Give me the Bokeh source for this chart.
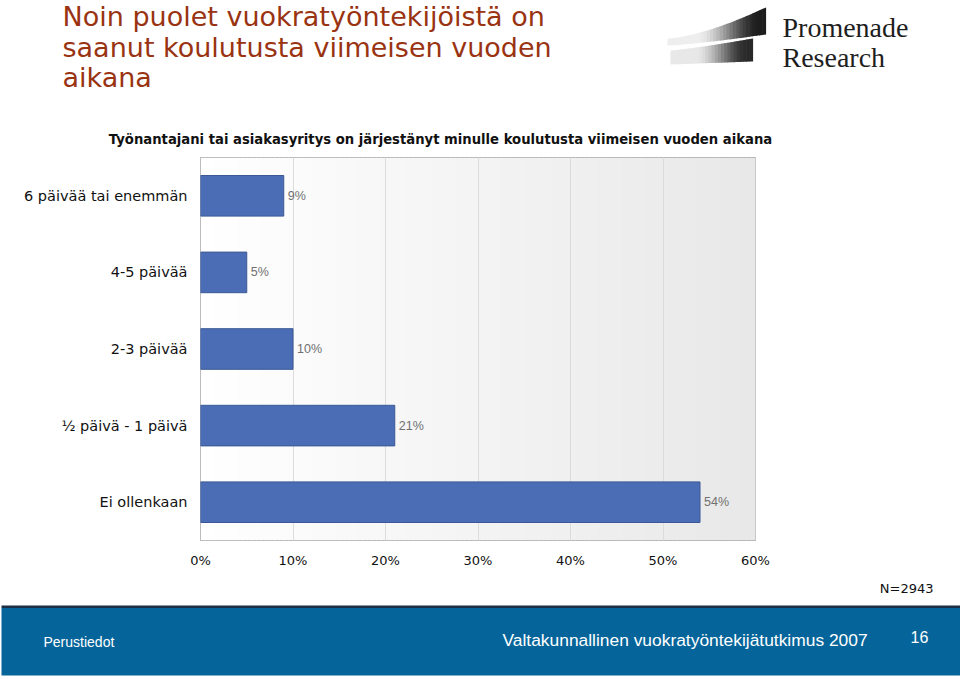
from bokeh.plotting import figure
from bokeh.layouts import column
from bokeh.models import (FactorRange, Range1d, BoxAnnotation,
                          FixedTicker, PrintfTickFormatter, ColumnDataSource)
from bokeh.embed import file_html
from bokeh.resources import INLINE
from bokeh.core.properties import value

# ---------------- data ----------------
categories = ["6 päivää tai enemmän", "4-5 päivää", "2-3 päivää", "½ päivä - 1 päivä", "Ei ollenkaan"]
percent = [9, 5, 10, 21, 54]
x_ticks = [0, 10, 20, 30, 40, 50, 60]
title_lines = ["Noin puolet vuokratyöntekijöistä on",
               "saanut koulutusta viimeisen vuoden",
               "aikana"]
subtitle = "Työnantajani tai asiakasyritys on järjestänyt minulle koulutusta viimeisen vuoden aikana"
sample_note = "N=2943"
footer_left = "Perustiedot"
footer_right = "Valtakunnallinen vuokratyöntekijätutkimus 2007"
page_number = "16"
logo_lines = ["Promenade", "Research"]

W = 960
H_HEAD, H_CHART, H_FOOT = 157, 418, 104


def blank_fig(h):
    f = figure(width=W, height=h, x_range=Range1d(0, W), y_range=Range1d(h, 0),
               x_axis_type=None, y_axis_type=None,
               output_backend="svg", toolbar_location=None,
               min_border=0, frame_align=False)
    f.outline_line_color = None
    f.grid.visible = False
    f.background_fill_color = "white"
    f.border_fill_color = "white"
    return f


def put_text(fig, x, y_mid, txt, font, size, color, align="left", style="normal"):
    fig.text(x=[x], y=[y_mid], text=[txt], text_font=value(font),
             text_font_size=value(size), text_color=color,
             text_align=align, text_baseline="middle",
             text_font_style=style)


# ---------------- header ----------------
head = blank_fig(H_HEAD)
for k, line in enumerate(title_lines):
    put_text(head, 62, 16.3 + 30.3 * k, line, "DejaVu Sans", "27px", "#993311")
put_text(head, 440, 139, subtitle, "DejaVu Sans", "13.2px", "#111111",
         align="center", style="bold")


def shape_slices(fig, x0, x1, top_f, bot_f, n, c0, c1, f0, f1):
    for i in range(n):
        a = x0 + (x1 - x0) * i / n
        b = x0 + (x1 - x0) * (i + 1) / n + 0.6
        ta = (a - x0) / (x1 - x0)
        tb = min((b - x0) / (x1 - x0), 1.0)
        tm = (i + 0.5) / n
        s = min(max((tm - f0) / (f1 - f0), 0.0), 1.0)
        s = s * s * (3 - 2 * s)
        g = int(round(c0 + (c1 - c0) * s))
        col = "#%02x%02x%02x" % (g, g, g)
        fig.patch([a, b, b, a], [top_f(ta), top_f(tb), bot_f(tb), bot_f(ta)],
                  fill_color=col, line_alpha=0)


# upper blade
shape_slices(head, 667, 765, lambda t: 38 - 31 * t ** 1.5,
             lambda t: 45 - 11 * t ** 1.3, 30, 238, 28, 0.3, 0.95)
# lower blade
shape_slices(head, 670, 752, lambda t: 50 - 12 * t ** 1.2,
             lambda t: 64 - 3 * t, 26, 232, 40, 0.3, 0.95)
for k, line in enumerate(logo_lines):
    put_text(head, 782, 26.5 + 30 * k, line, "Liberation Serif", "28px", "#1e1e1e")

# ---------------- chart ----------------
p = figure(width=W, height=H_CHART,
           y_range=FactorRange(factors=categories[::-1]),
           x_range=Range1d(0, 60),
           output_backend="svg", toolbar_location=None,
           min_border_left=200, min_border_right=205,
           min_border_top=0, min_border_bottom=H_CHART - 383,
           frame_align=False)
p.background_fill_color = "white"
p.border_fill_color = "white"
p.outline_line_color = "#a6a6a6"
p.outline_line_width = 1

n_strips = 120
for i in range(n_strips):
    t = i / (n_strips - 1)
    g = int(round(255 - 23 * t))
    col = "#%02x%02x%02x" % (g, g, g)
    w = 60 / n_strips
    p.add_layout(BoxAnnotation(left=i * w, right=(i + 1) * w + 0.08,
                               fill_color=col, fill_alpha=1.0,
                               line_alpha=0, level="image"))

p.xgrid.ticker = FixedTicker(ticks=x_ticks)
p.xgrid.grid_line_color = "#dcdcdc"
p.ygrid.grid_line_color = None

src = ColumnDataSource(dict(cat=categories, val=percent,
                            lbl=["%d%%" % v for v in percent]))
p.hbar(y="cat", left=0, right="val", height=0.53, source=src,
       fill_color="#4a6db5", line_color="#3b5994", line_width=1)
p.text(x="val", y="cat", text="lbl", source=src, x_offset=4,
       text_baseline="middle", text_align="left",
       text_font=value("Liberation Sans"), text_font_size="12.5px",
       text_color="#707070")

p.xaxis.ticker = FixedTicker(ticks=x_ticks)
p.xaxis.formatter = PrintfTickFormatter(format="%d%%")
for ax in (p.xaxis[0], p.yaxis[0]):
    ax.axis_line_color = None
    ax.major_tick_line_color = None
    ax.minor_tick_line_color = None
    ax.major_label_text_font = "DejaVu Sans"
    ax.major_label_text_color = "#111111"
p.xaxis.major_label_text_font_size = "13px"
p.yaxis.major_label_text_font_size = "14.5px"
p.xaxis.major_label_standoff = 6
p.yaxis.major_label_standoff = 7

# ---------------- footer ----------------
foot = blank_fig(H_FOOT)
put_text(foot, 933, 13, sample_note, "DejaVu Sans", "13px", "#111111", align="right")
foot.quad(left=1, right=W, top=30, bottom=32.5, fill_color="#1c2f45", line_alpha=0)
foot.quad(left=1, right=W, top=32.5, bottom=100, fill_color="#05659a", line_alpha=0)
put_text(foot, 43, 66, footer_left, "Liberation Sans", "14px", "white")
put_text(foot, 502, 64, footer_right, "Liberation Sans", "17.4px", "white")
put_text(foot, 910, 61.2, page_number, "Liberation Sans", "16px", "white")

layout = column(head, p, foot, spacing=0)
open("out.html", "w").write(file_html(layout, INLINE))
